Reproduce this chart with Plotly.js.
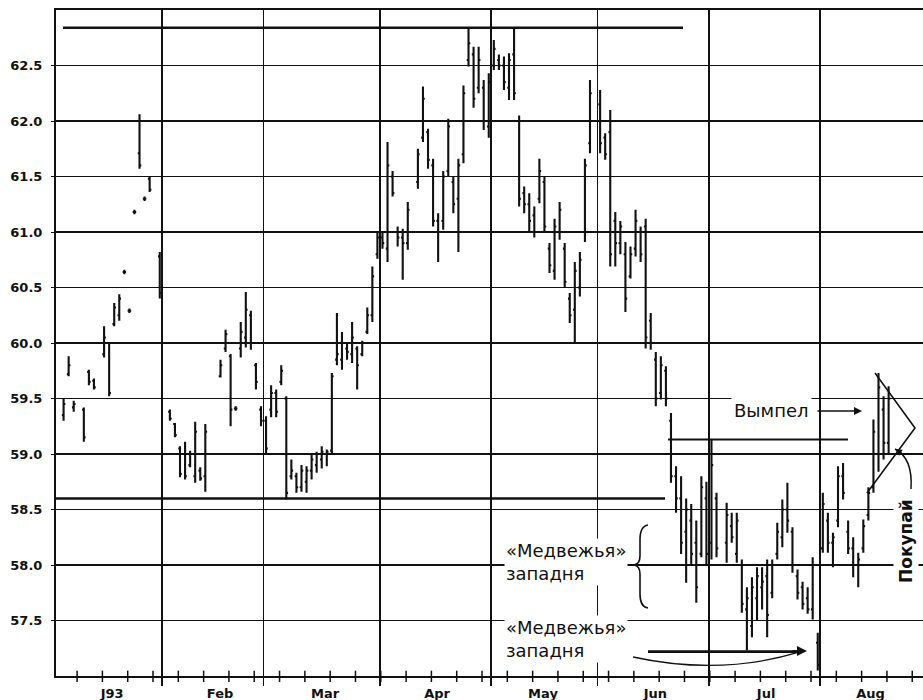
<!DOCTYPE html>
<html><head><meta charset="utf-8">
<script src="https://cdn.plot.ly/plotly-3.0.1.min.js"></script>
<style>html,body{margin:0;padding:0;background:#fff}#chart{width:923px;height:700px}</style>
</head><body><div id="chart"></div>
<script>
// ---- data ----
const dates = [
 '1993-01-04','1993-01-05','1993-01-06','1993-01-08','1993-01-11','1993-01-12','1993-01-14','1993-01-15','1993-01-18','1993-01-19','1993-01-20','1993-01-21','1993-01-22','1993-01-25','1993-01-26','1993-01-27','1993-01-29',
 '1993-02-02','1993-02-03','1993-02-04','1993-02-05','1993-02-08','1993-02-09','1993-02-10','1993-02-11','1993-02-16','1993-02-17','1993-02-18','1993-02-19','1993-02-22','1993-02-23','1993-02-24','1993-02-25','1993-02-26',
 '1993-03-01','1993-03-02','1993-03-03','1993-03-04','1993-03-05','1993-03-08','1993-03-09','1993-03-10','1993-03-11','1993-03-12','1993-03-15','1993-03-16','1993-03-17','1993-03-18','1993-03-19','1993-03-22','1993-03-23','1993-03-24','1993-03-25','1993-03-26','1993-03-29','1993-03-30','1993-03-31',
 '1993-04-01','1993-04-02','1993-04-05','1993-04-06','1993-04-07','1993-04-08','1993-04-12','1993-04-13','1993-04-14','1993-04-15','1993-04-16','1993-04-19','1993-04-20','1993-04-21','1993-04-22','1993-04-23','1993-04-26','1993-04-27','1993-04-28','1993-04-29','1993-04-30',
 '1993-05-03','1993-05-04','1993-05-05','1993-05-06','1993-05-07','1993-05-10','1993-05-11','1993-05-12','1993-05-13','1993-05-14','1993-05-17','1993-05-18','1993-05-19','1993-05-20','1993-05-21','1993-05-24','1993-05-25','1993-05-26','1993-05-27','1993-05-28',
 '1993-06-01','1993-06-02','1993-06-03','1993-06-04','1993-06-07','1993-06-08','1993-06-09','1993-06-10','1993-06-11','1993-06-14','1993-06-15','1993-06-16','1993-06-17','1993-06-18','1993-06-21','1993-06-22','1993-06-23','1993-06-24','1993-06-25','1993-06-28','1993-06-29','1993-06-30',
 '1993-07-01','1993-07-02','1993-07-06','1993-07-07','1993-07-08','1993-07-09','1993-07-12','1993-07-13','1993-07-14','1993-07-15','1993-07-16','1993-07-19','1993-07-20','1993-07-21','1993-07-22','1993-07-23','1993-07-26','1993-07-27','1993-07-28','1993-07-29','1993-07-30',
 '1993-08-02','1993-08-03','1993-08-04','1993-08-05','1993-08-06','1993-08-09','1993-08-10','1993-08-11','1993-08-12','1993-08-13','1993-08-16','1993-08-17','1993-08-18','1993-08-19'
];
const opens = [
 59.35,59.72,59.42,59.40,59.74,59.66,59.90,60.00,60.17,60.25,60.64,60.29,61.18,61.71,61.30,61.48,60.78,
 59.38,59.27,59.05,59.00,58.90,58.80,58.85,58.80,59.70,59.95,59.88,59.41,59.95,60.05,60.25,59.80,59.40,
 59.30,59.40,59.55,59.65,59.50,58.80,58.80,58.70,58.75,58.85,58.90,58.95,59.00,59.03,59.85,59.85,59.95,59.90,59.95,59.90,60.10,60.25,60.80,
 60.95,60.85,61.50,61.00,60.95,60.90,61.45,61.85,61.90,61.60,61.10,61.10,61.55,61.45,61.30,61.70,62.55,62.60,62.30,62.30,61.95,
 62.50,62.55,62.50,62.30,62.60,62.00,61.35,61.25,61.15,61.30,61.45,60.85,60.65,61.00,60.85,60.40,60.30,60.50,61.00,61.80,
 62.15,61.85,61.90,61.10,60.90,60.80,60.60,60.85,61.00,61.05,60.20,59.85,59.55,59.75,59.30,58.80,58.60,58.30,58.40,58.20,58.10,58.60,
 58.20,58.60,58.20,58.35,58.10,58.00,57.60,57.45,57.70,57.80,57.90,57.75,58.10,58.25,58.50,58.30,57.90,57.80,57.70,57.60,57.30,
 58.15,58.40,58.20,58.40,58.80,58.30,58.15,58.00,58.15,58.45,58.70,59.00,59.40,59.10
];
const highs = [
 59.50,59.88,59.48,59.42,59.76,59.68,60.15,60.00,60.36,60.44,60.66,60.31,61.20,62.06,61.32,61.50,60.82,
 59.40,59.28,59.07,59.11,59.03,59.29,58.88,59.27,59.85,60.12,59.90,59.43,60.19,60.46,60.29,59.82,59.43,
 59.34,59.62,59.58,59.80,59.52,58.95,58.83,58.90,58.89,59.01,59.02,59.07,59.04,59.73,60.27,60.10,60.00,60.19,59.97,60.02,60.32,60.69,61.00,
 61.00,61.81,61.55,61.05,61.03,61.27,61.75,62.31,61.93,61.66,61.17,61.55,62.02,61.50,61.66,62.32,62.83,62.67,62.67,62.37,62.43,
 62.73,62.60,62.58,62.61,62.83,62.05,61.41,61.35,61.23,61.66,61.50,60.90,61.12,61.27,60.90,60.45,60.73,60.82,61.66,62.37,
 62.28,61.89,62.10,61.18,61.10,60.91,60.87,61.20,61.05,61.12,60.27,59.92,59.88,59.79,59.37,58.89,58.80,58.60,58.55,58.40,58.80,58.75,
 59.13,58.65,58.56,58.47,58.47,58.05,57.80,57.89,57.98,57.98,58.05,58.05,58.38,58.59,58.74,58.34,57.96,57.85,57.80,58.07,57.39,
 58.65,58.47,58.29,58.89,58.92,58.40,58.25,58.11,58.41,58.70,59.31,59.73,59.52,59.61
];
const lows = [
 59.30,59.70,59.38,59.11,59.62,59.58,59.87,59.52,60.15,60.20,60.62,60.27,61.16,61.57,61.28,61.36,60.40,
 59.30,59.15,58.79,58.77,58.88,58.74,58.76,58.66,59.69,59.92,59.25,59.39,59.87,59.96,59.94,59.58,59.25,
 59.00,59.33,59.33,59.62,58.59,58.77,58.65,58.66,58.65,58.77,58.83,58.87,58.89,59.01,59.80,59.76,59.85,59.82,59.58,59.88,60.08,60.19,60.76,
 60.85,60.73,61.32,60.87,60.57,60.84,61.39,61.81,61.57,61.05,60.73,61.02,61.50,61.17,60.82,61.62,62.49,62.12,62.25,61.92,61.85,
 62.46,62.46,62.28,62.19,62.19,61.23,61.17,61.00,60.95,61.26,61.00,60.63,60.57,60.93,60.50,60.18,60.00,60.42,60.91,61.71,
 61.71,61.65,60.69,60.69,60.80,60.28,60.58,60.78,60.73,59.95,59.94,59.43,59.49,59.43,58.74,58.47,58.10,57.84,58.00,57.66,58.07,58.00,
 58.05,58.07,58.02,58.20,58.02,57.57,57.23,57.35,57.50,57.60,57.35,57.70,58.05,58.16,58.29,57.93,57.69,57.60,57.56,57.51,57.05,
 58.11,58.11,57.98,58.34,58.59,58.10,57.89,57.80,58.11,58.40,58.65,58.84,58.95,59.01
];
const closes = [
 59.45,59.80,59.45,59.15,59.65,59.60,60.05,59.55,60.32,60.40,60.64,60.29,61.18,61.60,61.30,61.38,60.45,
 59.32,59.17,58.82,58.80,59.00,59.20,58.78,59.20,59.80,60.08,59.40,59.41,60.10,60.30,60.00,59.65,59.30,
 59.05,59.55,59.38,59.75,58.65,58.85,58.70,58.85,58.85,58.95,59.00,59.02,59.02,59.70,59.90,60.00,59.92,60.05,59.80,60.00,60.25,60.60,60.95,
 60.90,61.60,61.35,60.95,60.90,61.20,61.70,62.20,61.65,61.10,61.00,61.50,61.95,61.25,61.60,62.25,62.70,62.20,62.55,62.00,62.35,
 62.65,62.50,62.35,62.55,62.25,61.30,61.25,61.10,61.00,61.55,61.05,60.70,61.05,61.20,60.55,60.25,60.65,60.75,61.60,62.25,
 61.80,61.70,60.80,60.90,61.05,60.40,60.80,61.10,60.80,60.05,60.00,59.50,59.80,59.50,58.80,58.60,58.20,58.50,58.10,57.80,58.70,58.10,
 58.90,58.15,58.45,58.25,58.40,57.65,57.70,57.80,57.90,57.85,57.55,58.00,58.30,58.50,58.40,58.00,57.75,57.65,57.60,58.00,57.10,
 58.55,58.20,58.25,58.80,58.65,58.15,58.00,58.05,58.35,58.65,59.20,59.60,59.10,59.50
];
const yTicks = [57.5, 58.0, 58.5, 59.0, 59.5, 60.0, 60.5, 61.0, 61.5, 62.0, 62.5];
const monthLabels = ['J93','Feb','Mar','Apr','May','Jun','Jul','Aug'];
const monthLabelAt = ['1993-01-18 02:00','1993-02-16 10:00','1993-03-17 04:00','1993-04-16 07:00','1993-05-17 05:00','1993-06-16 10:00','1993-07-16 07:00','1993-08-13 22:00'];
const monthStarts = ['1993-02-01','1993-03-01','1993-04-01','1993-05-03','1993-06-01','1993-07-01','1993-08-02'];
// annotation levels
const resistance = 62.84, support = 58.6, pennantBase = 59.13, trapLow = 57.22;

// ---- helpers for decoration placement (plot area pixels -> paper) ----
const PL = 56, PT = 10, PW = 867, PH = 666;
const fx = p => (p - PL) / PW;
const fy = p => (PT + PH - p) / PH;
const P = (x, y) => fx(x).toFixed(5) + ',' + fy(y).toFixed(5);
const INK = '#111';

// weekly axis ticks (Thursdays), crossing the axis
const weekTicks = [];
for (let d = new Date(Date.UTC(1993, 0, 7)); d < new Date(Date.UTC(1993, 7, 30)); d = new Date(d.getTime() + 7 * 864e5)) {
  const s = d.toISOString().slice(0, 10) + ' 04:00';
  weekTicks.push({type:'line', xref:'x', yref:'paper', x0:s, x1:s, y0:-0.009, y1:0.008, line:{color:INK, width:1.5}});
}

const trace = {
  type: 'ohlc',
  x: dates.map(d => d + ' 12:00'),
  open: opens, high: highs, low: lows, close: closes,
  increasing: {line: {color: INK, width: 2.1}},
  decreasing: {line: {color: INK, width: 2.1}},
  tickwidth: 0.35,
  hoverinfo: 'skip'
};

const txtFont = {family: 'DejaVu Sans', size: 18, color: INK};

const layout = {
  width: 923, height: 700,
  margin: {l: PL, r: 0, t: PT, b: 700 - PT - PH},
  paper_bgcolor: '#fff', plot_bgcolor: '#fff',
  showlegend: false, hovermode: false,
  xaxis: {
    type: 'date',
    range: ['1993-01-01', '1993-08-30 07:00'],
    rangebreaks: [{bounds: ['sat', 'mon']}],
    rangeslider: {visible: false},
    tickmode: 'array', tickvals: monthLabelAt, ticktext: monthLabels,
    ticks: '', showgrid: false, ticklabelstandoff: 4,
    tickfont: {family: 'DejaVu Sans', size: 13, weight: 'bold', color: INK},
    showline: true, linecolor: INK, linewidth: 2, mirror: true,
    minor: {tickmode: 'array', tickvals: monthStarts, showgrid: true, gridcolor: INK, gridwidth: 1.8,
            ticks: 'outside', ticklen: 8, tickcolor: INK, tickwidth: 1.8},
    zeroline: false, fixedrange: true
  },
  yaxis: {
    range: [57, 63],
    tickmode: 'array', tickvals: yTicks, ticktext: yTicks.map(v => v.toFixed(1)),
    ticks: 'outside', ticklen: 3, tickcolor: INK, ticklabelstandoff: 6,
    tickfont: {family: 'DejaVu Sans', size: 13, weight: 'bold', color: INK},
    showgrid: true, gridcolor: INK, gridwidth: 1.4,
    showline: true, linecolor: INK, linewidth: 2, mirror: false,
    zeroline: false, fixedrange: true
  },
  shapes: [
    {type:'line', xref:'paper', yref:'y', x0:fx(63), x1:fx(683), y0:resistance, y1:resistance, line:{color:INK, width:2.5}},
    {type:'line', xref:'paper', yref:'y', x0:0, x1:fx(665), y0:support, y1:support, line:{color:INK, width:2.5}},
    {type:'line', xref:'paper', yref:'y', x0:fx(668), x1:fx(848), y0:pennantBase, y1:pennantBase, line:{color:INK, width:2}},
    {type:'line', xref:'paper', yref:'y', x0:fx(648), x1:fx(802), y0:trapLow, y1:trapLow, line:{color:INK, width:2.8}},
    {type:'path', xref:'paper', yref:'paper', path:'M' + P(633,657) + ' Q' + P(720,676) + ' ' + P(800,652), line:{color:INK, width:1.3}},
    {type:'path', xref:'paper', yref:'paper', path:'M' + P(648,525) + ' Q' + P(640,526) + ' ' + P(640,540) + ' L' + P(640,556) + ' Q' + P(640,564) + ' ' + P(634,565) + ' Q' + P(640,566) + ' ' + P(640,574) + ' L' + P(640,594) + ' Q' + P(640,607) + ' ' + P(648,608), line:{color:INK, width:1.6}},
    {type:'path', xref:'paper', yref:'paper', path:'M' + P(875,373) + ' L' + P(915,428) + ' L' + P(867,493), line:{color:INK, width:1.6}},
    {type:'path', xref:'paper', yref:'paper', path:'M' + P(911,489) + ' Q' + P(913,458) + ' ' + P(895,449), line:{color:INK, width:1.5}}
  ].concat(weekTicks),
  annotations: [
    {xref:'paper', yref:'paper', x:fx(504), y:fy(562), xanchor:'left', yanchor:'middle', align:'left',
     text:'«Медвежья»<br>западня', showarrow:false, font:txtFont, bgcolor:'#fff', borderpad:1},
    {xref:'paper', yref:'paper', x:fx(504), y:fy(639), xanchor:'left', yanchor:'middle', align:'left',
     text:'«Медвежья»<br>западня', showarrow:false, font:txtFont, bgcolor:'#fff', borderpad:1},
    {xref:'paper', yref:'paper', x:fx(771), y:fy(411), xanchor:'center', yanchor:'middle',
     text:'Вымпел', showarrow:false, font:txtFont, bgcolor:'#fff', borderpad:2},
    {xref:'paper', yref:'paper', x:fx(862), y:fy(411), ax:-46, ay:0, text:'', showarrow:true,
     arrowhead:2, arrowsize:1, arrowwidth:1.6, arrowcolor:INK},
    {xref:'paper', yref:'paper', x:fx(807), y:fy(651), ax:-16, ay:0, text:'', showarrow:true,
     arrowhead:2, arrowsize:1, arrowwidth:2, arrowcolor:INK},
    {xref:'paper', yref:'paper', x:fx(895), y:fy(449), ax:8, ay:5, text:'', showarrow:true,
     arrowhead:2, arrowsize:1, arrowwidth:1.4, arrowcolor:INK},
    {xref:'paper', yref:'paper', x:fx(906), y:fy(541), xanchor:'center', yanchor:'middle', textangle:-90,
     text:'Покупай', showarrow:false, font:{family:'DejaVu Sans', size:17, weight:'bold', color:INK}, bgcolor:'#fff', borderpad:2}
  ]
};

Plotly.newPlot('chart', [trace], layout, {staticPlot: true, displayModeBar: false});
</script>
</body></html>
